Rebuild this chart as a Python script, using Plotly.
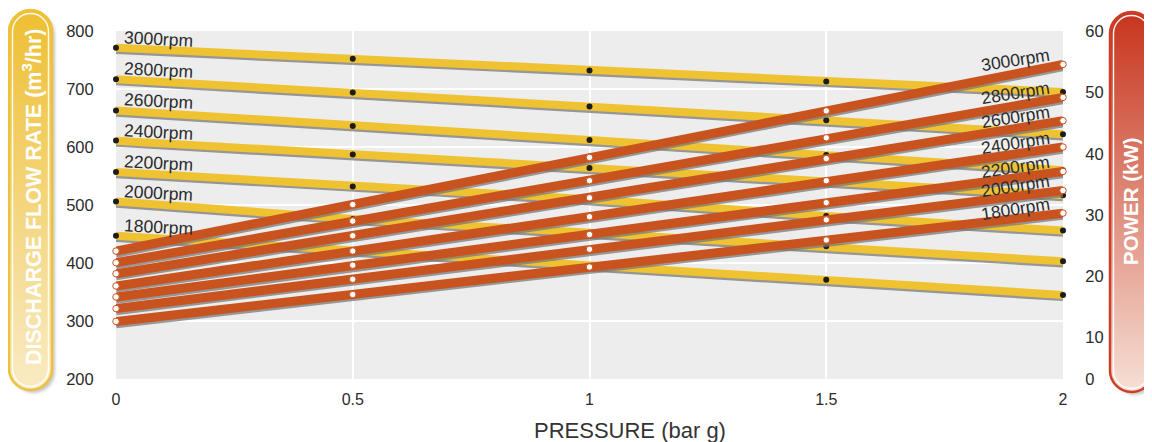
import base64
import plotly.graph_objects as go

# ---------------- data ----------------
pressure = [0, 0.5, 1, 1.5, 2]
rpm_labels = ["3000rpm", "2800rpm", "2600rpm", "2400rpm", "2200rpm", "2000rpm", "1800rpm"]

flow_3000 = [771, 752, 732, 713, 695]
flow_2800 = [717, 694, 670, 646, 622]
flow_2600 = [663, 636, 612, 586, 560]
flow_2400 = [611, 587, 564, 541, 517]
flow_2200 = [557, 532, 510, 481, 456]
flow_2000 = [506, 476, 452, 429, 403]
flow_1800 = [447, 421, 395, 371, 345]

power_3000 = [24.1, 31.7, 39.4, 47.0, 54.6]
power_2800 = [22.2, 29.0, 35.6, 42.6, 49.2]
power_2600 = [20.4, 26.6, 32.8, 39.2, 45.4]
power_2400 = [18.4, 24.1, 29.7, 35.6, 41.1]
power_2200 = [16.6, 21.8, 26.8, 32.0, 37.1]
power_2000 = [14.7, 19.5, 24.4, 29.2, 34.0]
power_1800 = [12.6, 17.0, 21.5, 25.9, 30.3]

x_ticks = [0, 0.5, 1, 1.5, 2]
x_ticktext = ["0", "0.5", "1", "1.5", "2"]
flow_ticks = [200, 300, 400, 500, 600, 700, 800]
power_ticktext = ["0", "10", "20", "30", "40", "50", "60"]

flows = [flow_3000, flow_2800, flow_2600, flow_2400, flow_2200, flow_2000, flow_1800]
powers = [power_3000, power_2800, power_2600, power_2400, power_2200, power_2000, power_1800]

# ---------------- layout geometry ----------------
OFF = 8  # page body margin
W, H = 1152 - OFF, 442 - OFF
L, T = 116 - OFF, 31 - OFF
R = W - (1063 - OFF)
B = H - (379 - OFF)
plot_w = W - L - R
plot_h = H - T - B
flow_range = [200, 800]
power_range = [3.2, 60.05]
power_tickvals = [power_range[0], 10, 20, 30, 40, 50, 60]

YELLOW = "#EFC232"
RED = "#C9531F"
SHADOW = "rgba(120,120,120,0.75)"
TXT = "#2b2b2b"
FONT = "Liberation Sans, Arial, sans-serif"

flow_px = plot_h / (flow_range[1] - flow_range[0])
power_px = plot_h / (power_range[1] - power_range[0])
shadow_shift = 2.2


def px_to_paper(px, py):
    # px, py in page pixels
    return (px - OFF - L) / plot_w, (T + plot_h - (py - OFF)) / plot_h


fig = go.Figure()

# yellow (flow) lines with shadows
for f in flows:
    fig.add_trace(go.Scatter(x=pressure, y=[v - shadow_shift / flow_px for v in f], mode="lines",
                             line=dict(color=SHADOW, width=8), hoverinfo="skip", showlegend=False))
    fig.add_trace(go.Scatter(x=pressure, y=f, mode="lines+markers",
                             line=dict(color=YELLOW, width=8),
                             marker=dict(color="#1c1c1c", size=6),
                             cliponaxis=False, showlegend=False))

# red (power) lines with shadows
for p in powers:
    fig.add_trace(go.Scatter(x=pressure, y=[v - shadow_shift / power_px for v in p], mode="lines",
                             line=dict(color=SHADOW, width=9), yaxis="y2",
                             hoverinfo="skip", showlegend=False))
    fig.add_trace(go.Scatter(x=pressure, y=p, mode="lines+markers", yaxis="y2",
                             line=dict(color=RED, width=9),
                             marker=dict(color="white", size=6.5, line=dict(color=RED, width=1)),
                             cliponaxis=False, showlegend=False))

annotations = []
for lab, f in zip(rpm_labels, flows):
    annotations.append(dict(x=0, y=f[0], xref="x", yref="y", text=lab, showarrow=False,
                            xanchor="left", yanchor="middle", xshift=5, yshift=9, textangle=3,
                            font=dict(family=FONT, size=17.5, color=TXT)))
for lab, p in zip(rpm_labels, powers):
    annotations.append(dict(x=2, y=p[-1], xref="x", yref="y2", text=lab, showarrow=False,
                            xanchor="right", yanchor="middle", xshift=-10, yshift=4, textangle=-9,
                            font=dict(family=FONT, size=17.5, color=TXT)))

tx, ty = px_to_paper(630, 430)
annotations.append(dict(x=tx, y=ty, xref="paper", yref="paper",
                        text="PRESSURE (bar g)", showarrow=False, xanchor="center", yanchor="middle",
                        font=dict(family=FONT, size=22, color="#333333")))
ax_, ay_ = px_to_paper(32, 197)
annotations.append(dict(x=ax_, y=ay_, xref="paper", yref="paper",
                        text="DISCHARGE FLOW RATE (m<sup>3</sup>/hr)", showarrow=False, textangle=-90,
                        xanchor="center", yanchor="middle",
                        font=dict(family=FONT, size=21.5, color="white", weight="bold")))
bx_, by_ = px_to_paper(1130, 201)
annotations.append(dict(x=bx_, y=by_, xref="paper", yref="paper",
                        text="POWER (kW)", showarrow=False, textangle=-90,
                        xanchor="center", yanchor="middle",
                        font=dict(family=FONT, size=20.5, color="white", weight="bold")))


def pill_svg(top, bottom, rim):
    svg = f'''<svg xmlns="http://www.w3.org/2000/svg" width="52" height="390" viewBox="0 0 52 390">
<defs>
<linearGradient id="g" x1="0" y1="0" x2="0" y2="1">
<stop offset="0" stop-color="{top}"/><stop offset="1" stop-color="{bottom}"/>
</linearGradient>
<filter id="b" x="-20%" y="-5%" width="140%" height="110%"><feGaussianBlur stdDeviation="1.5"/></filter>
</defs>
<rect x="5" y="5" width="43" height="380" rx="21.5" fill="#9a9a9a" opacity="0.55" filter="url(#b)"/>
<rect x="2" y="2" width="43" height="380" rx="21.5" fill="url(#g)" stroke="{rim}" stroke-width="2.5"/>
<rect x="5.5" y="5.5" width="36" height="373" rx="18" fill="none" stroke="white" stroke-width="1.4" opacity="0.95"/>
</svg>'''
    return "data:image/svg+xml;base64," + base64.b64encode(svg.encode()).decode()


lx, ly = px_to_paper(7, 8)
rx, ry = px_to_paper(1108, 10)
images = [
    dict(source=pill_svg("#EEBF33", "#F9EBC4", "#EFC13A"), xref="paper", yref="paper", x=lx, y=ly,
         sizex=52 / plot_w, sizey=390 / plot_h, xanchor="left", yanchor="top", sizing="stretch", layer="above"),
    dict(source=pill_svg("#C7351D", "#F6E0D6", "#CC3E26"), xref="paper", yref="paper", x=rx, y=ry,
         sizex=52 / plot_w, sizey=390 / plot_h, xanchor="left", yanchor="top", sizing="stretch", layer="above"),
]

fig.update_layout(
    width=W, height=H,
    margin=dict(l=L, r=R, t=T, b=B, pad=0),
    paper_bgcolor="white",
    plot_bgcolor="#ECEDEC",
    font=dict(family=FONT, color=TXT),
    showlegend=False,
    xaxis=dict(range=[0, 2], tickvals=x_ticks, ticktext=x_ticktext, showgrid=True,
               gridcolor="white", gridwidth=2, zeroline=False, showline=False,
               ticks="outside", ticklen=6, tickcolor="rgba(0,0,0,0)",
               tickfont=dict(family=FONT, size=16, color=TXT), fixedrange=True),
    yaxis=dict(range=flow_range, tickvals=flow_ticks, showgrid=True, gridcolor="white", gridwidth=2,
               zeroline=False, showline=False, ticks="outside", ticklen=18, tickcolor="rgba(0,0,0,0)",
               tickfont=dict(family=FONT, size=16.5, color=TXT), fixedrange=True),
    yaxis2=dict(range=power_range, tickvals=power_tickvals, ticktext=power_ticktext, overlaying="y",
                side="right", showgrid=False, zeroline=False, showline=False, ticks="outside",
                ticklen=18, tickcolor="rgba(0,0,0,0)",
                tickfont=dict(family=FONT, size=16.5, color=TXT), fixedrange=True),
    annotations=annotations,
    images=images,
)

fig.write_html("out.html")
